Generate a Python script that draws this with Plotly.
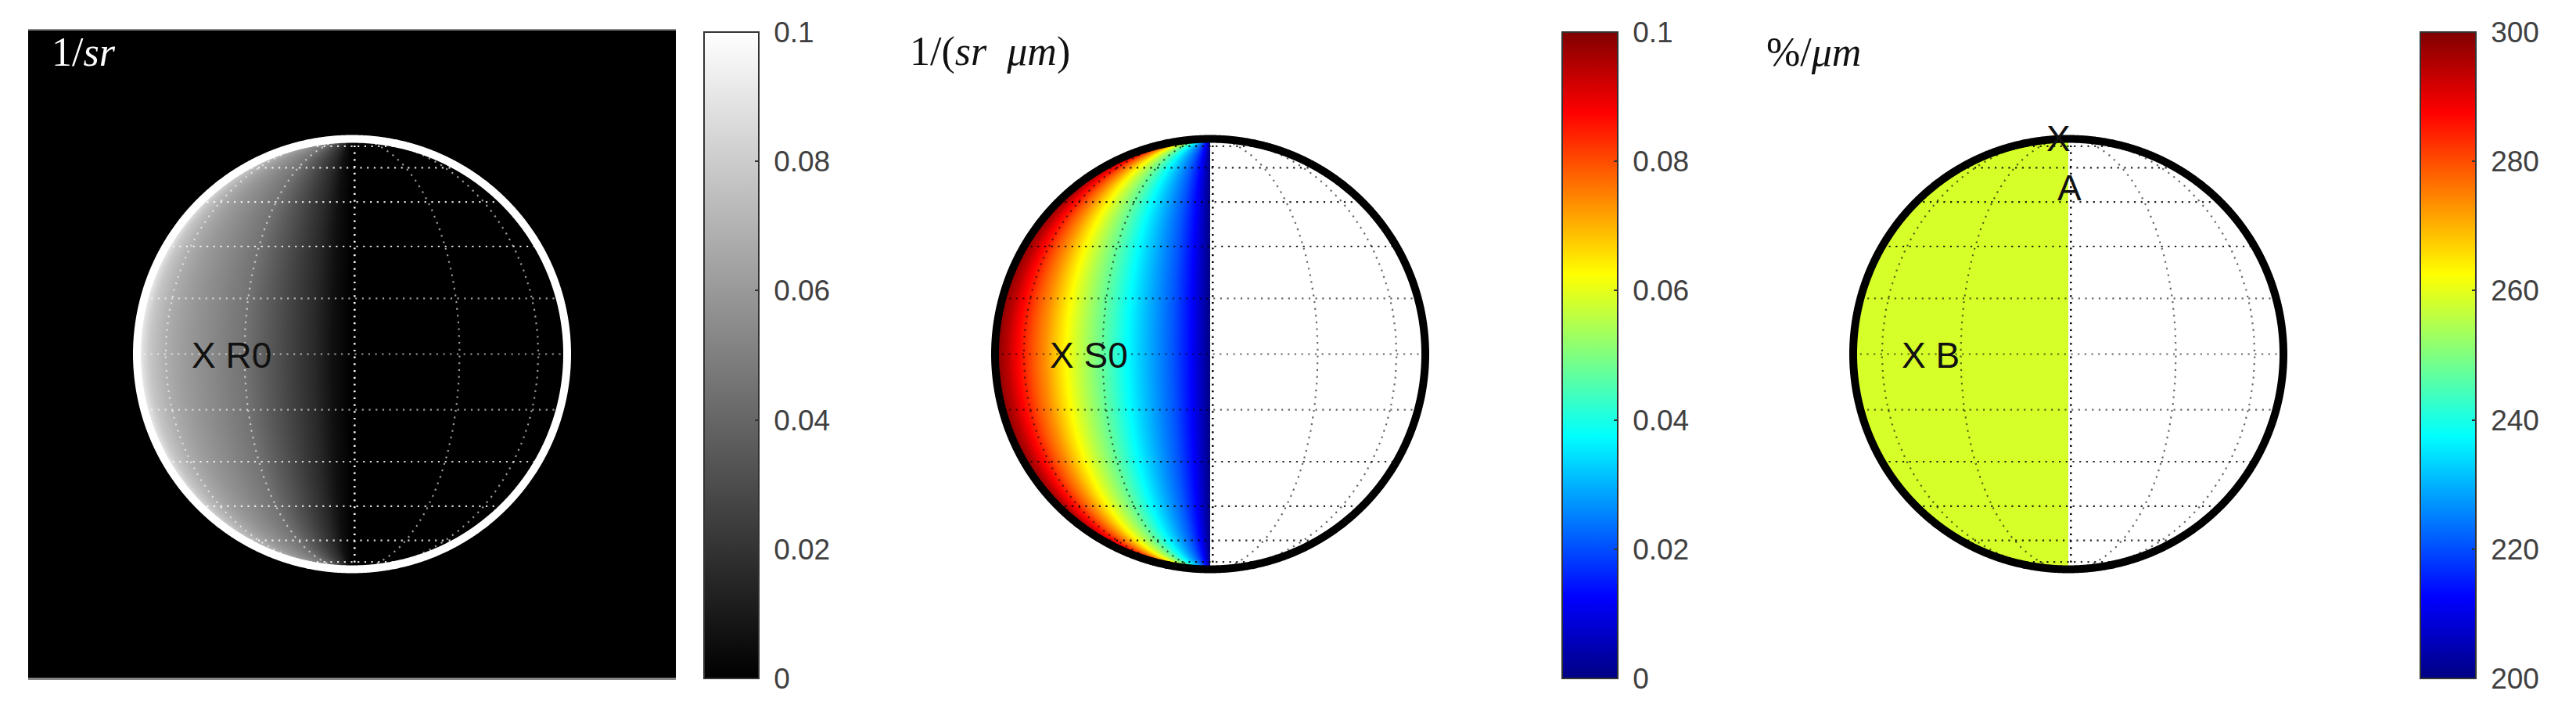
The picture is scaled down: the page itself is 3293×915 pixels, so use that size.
import numpy as np
import plotly.graph_objects as go

# Values: field against longitude from the terminator
lon_samples = [0, 5, 10, 20, 30, 40, 50, 60, 70, 80, 90]
R0_values = [0.0, 0.006, 0.016, 0.031, 0.045, 0.053, 0.060, 0.068, 0.078, 0.093, 0.1]
S0_values = [0.0, 0.0125, 0.021, 0.034, 0.0475, 0.060, 0.0735, 0.0845, 0.094, 0.099, 0.1]
B_value = 258.5

cbar_ticks_small = [0, 0.02, 0.04, 0.06, 0.08, 0.1]
cbar_labels_small = ["0", "0.02", "0.04", "0.06", "0.08", "0.1"]
cbar_ticks_large = [200, 220, 240, 260, 280, 300]
cbar_labels_large = ["200", "220", "240", "260", "280", "300"]

lat_lines = [-75, -60, -45, -30, -15, 0, 15, 30, 45, 60, 75]
lon_lines = [-60, -30, 30, 60]
units = ["1/<i>sr</i>", "1/(<i>sr  μm</i>)", "%/<i>μm</i>"]

PAGE_MARGIN = 8  # the page body offsets the figure by this many pixels
W, H = 3293 - 2 * PAGE_MARGIN, 915 - 2 * PAGE_MARGIN
R_PX = 275.0
HALF = 414.0
CY = 452.5 - PAGE_MARGIN
centers = [450.0 - PAGE_MARGIN, 1547.0 - PAGE_MARGIN, 2644.0 - PAGE_MARGIN]
cbars = [(900 - PAGE_MARGIN, 969.5 - PAGE_MARGIN), (1997 - PAGE_MARGIN, 2068 - PAGE_MARGIN),
         (3094 - PAGE_MARGIN, 3165 - PAGE_MARGIN)]

GRAY = [[0, "rgb(0,0,0)"], [1, "rgb(255,255,255)"]]
JET = [[0, "rgb(0,0,131)"], [0.125, "rgb(0,0,255)"], [0.375, "rgb(0,255,255)"],
       [0.625, "rgb(255,255,0)"], [0.875, "rgb(255,0,0)"], [1, "rgb(128,0,0)"]]

xs = (np.arange(0, 275) + 0.5 - 275) / R_PX
ys = (np.arange(0, 550) + 0.5 - 275) / R_PX
XX, YY = np.meshgrid(xs, ys)
RR = np.hypot(XX, YY)
inside = RR < 0.995
COSLAT = np.sqrt(np.clip(1 - YY**2, 1e-9, None))
LON = np.degrees(np.arcsin(np.clip(-XX / COSLAT, 0, 1)))


def field(samples):
    z = np.interp(LON, lon_samples, samples)
    return np.where(inside, z, np.nan)


z_r0 = field(R0_values)
z_s0 = field(S0_values)
z_b = np.where(inside, B_value, np.nan)

fig = go.Figure()
panels = [
    (z_r0, GRAY, 0, 0.1, cbar_ticks_small, cbar_labels_small, "255,255,255", "white"),
    (z_s0, JET, 0, 0.1, cbar_ticks_small, cbar_labels_small, "0,0,0", "black"),
    (z_b, JET, 200, 300, cbar_ticks_large, cbar_labels_large, "0,0,0", "black"),
]
DOTS = "2.2px,6.5px"
layout = {}
for i, (z, cs, zmin, zmax, tv, tt, grid_rgb, limb_col) in enumerate(panels):
    ax = "" if i == 0 else str(i + 1)
    xa, ya = "x" + ax, "y" + ax
    c0, c1 = cbars[i]
    fig.add_trace(go.Heatmap(
        x=xs, y=ys, z=z, colorscale=cs, zmin=zmin, zmax=zmax, xaxis=xa, yaxis=ya,
        hoverongaps=False, showscale=True,
        colorbar=dict(
            x=c0 / W, xanchor="left", xpad=0, ypad=0,
            y=(H - ((41 + 867) / 2 - PAGE_MARGIN)) / H, yanchor="middle",
            len=826, lenmode="pixels", thickness=c1 - c0, thicknessmode="pixels",
            outlinecolor="#333333", outlinewidth=2,
            tickmode="array", tickvals=tv, ticktext=["\u00a0" + s for s in tt],
            ticks="inside", ticklen=6, tickwidth=2, tickcolor="#333333",
            tickfont=dict(family="Liberation Sans", size=37, color="#404040"),
        ),
    ))
    for lat in lat_lines:
        lon = np.radians(np.arange(-90, 90.5, 1.0))
        alpha = 0.6 if abs(lat) <= 15 else 0.85
        fig.add_trace(go.Scatter(
            x=np.cos(np.radians(lat)) * np.sin(lon), y=np.full_like(lon, np.sin(np.radians(lat))),
            mode="lines", xaxis=xa, yaxis=ya, showlegend=False, hoverinfo="skip",
            line=dict(color=f"rgba({grid_rgb},{alpha})", width=2.2, dash=DOTS)))
    for lon0 in lon_lines:
        lat = np.radians(np.arange(-80, 80.5, 1.0))
        fig.add_trace(go.Scatter(
            x=np.cos(lat) * np.sin(np.radians(lon0)), y=np.sin(lat),
            mode="lines", xaxis=xa, yaxis=ya, showlegend=False, hoverinfo="skip",
            line=dict(color=f"rgba({grid_rgb},0.6)", width=2.2, dash=DOTS)))
    fig.add_trace(go.Scatter(
        x=[0.012, 0.012], y=[-1, 1], mode="lines", xaxis=xa, yaxis=ya, showlegend=False,
        hoverinfo="skip", line=dict(color="white" if i == 0 else "black", width=2.5, dash=DOTS)))
    t = np.radians(np.arange(0, 360.1, 0.25))
    fig.add_trace(go.Scatter(
        x=np.cos(t), y=np.sin(t), mode="lines", xaxis=xa, yaxis=ya, showlegend=False,
        hoverinfo="skip", line=dict(color=limb_col, width=10, simplify=False)))
    cx = centers[i]
    rng = HALF / R_PX
    layout["xaxis" + ax] = dict(
        domain=[(cx - HALF) / W, (cx + HALF) / W], range=[-rng, rng], visible=(i == 0),
        showticklabels=False, ticks="", showgrid=False, zeroline=False,
        showline=(i == 0), linecolor="#888888", linewidth=2, mirror=True, anchor=ya)
    y_off = (H - CY) / H
    layout["yaxis" + ax] = dict(
        domain=[y_off - HALF / H, y_off + HALF / H], range=[-rng, rng], visible=(i == 0),
        showticklabels=False, ticks="", showgrid=False, zeroline=False,
        showline=False, anchor=xa)


def note(text, px, py, size=46, color="#111111", family="Liberation Sans", anchor="left"):
    return dict(text=text, x=(px - PAGE_MARGIN) / W, y=(H - (py - PAGE_MARGIN)) / H,
                xref="paper", yref="paper",
                xanchor=anchor, yanchor="middle", showarrow=False,
                font=dict(family=family, size=size, color=color))


annots = [
    note("X R0", 243, 454),
    note("X S0", 1340, 454),
    note("X B", 2429, 454),
    note("X", 2631, 177, anchor="center"),
    note("A", 2645, 240, anchor="center"),
    note(units[0], 64, 66, size=52, color="white", family="Liberation Serif"),
    note(units[1], 1161, 66, size=52, color="#111111", family="Liberation Serif"),
    note(units[2], 2256, 66, size=52, color="#111111", family="Liberation Serif"),
]

fig.update_layout(
    width=W, height=H, margin=dict(l=0, r=0, t=0, b=0), autosize=False,
    paper_bgcolor="white", plot_bgcolor="rgba(0,0,0,0)", showlegend=False,
    annotations=annots, **layout,
)
fig.add_shape(type="rect", xref="x domain", yref="y domain", x0=0, x1=1, y0=0, y1=1,
              fillcolor="black", line_width=0, layer="below")
fig.write_html("out.html")
